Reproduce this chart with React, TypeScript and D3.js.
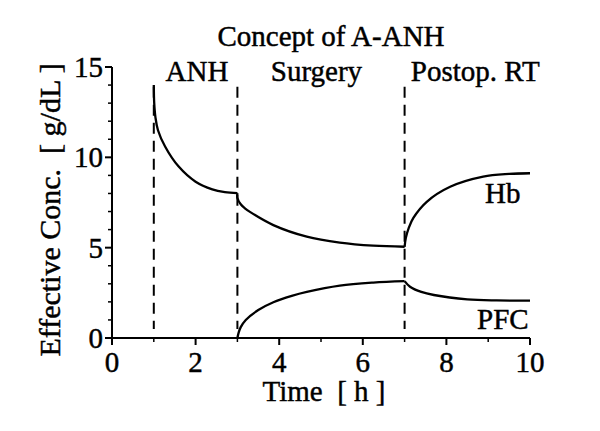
import React from 'react';
import * as d3 from 'd3';

// values: [time h, conc g/dL]
const hbAnh: [number, number][] = [
    [1.0, 14.0], [1.01, 13.0], [1.04, 12.2], [1.1, 11.5], [1.27, 10.6],
    [1.59, 9.5], [2.0, 8.65], [2.4, 8.23], [2.7, 8.08], [3.0, 8.02],
];
const hbSurgery: [number, number][] = [
    [3.0, 8.02], [3.0, 7.75], [3.08, 7.4], [3.18, 7.18], [3.3, 6.98], [3.86, 6.25],
    [4.66, 5.61], [5.45, 5.28], [6.25, 5.11], [7.0, 5.05],
];
const hbPostop: [number, number][] = [
    [7.0, 5.05], [7.03, 5.55], [7.1, 6.1], [7.21, 6.65], [7.53, 7.54], [8.09, 8.37],
    [8.88, 8.93], [9.5, 9.08], [10.0, 9.12],
];
const pfcSurgery: [number, number][] = [
    [3.0, 0.0], [3.03, 0.3], [3.08, 0.6], [3.2, 1.0], [3.5, 1.55], [3.86, 1.98],
    [4.3, 2.33], [4.66, 2.55], [5.45, 2.9], [6.25, 3.07], [7.0, 3.15],
];
const pfcPostop: [number, number][] = [
    [7.0, 3.15], [7.13, 2.84], [7.4, 2.55], [7.7, 2.38], [8.5, 2.14], [9.2, 2.08], [10.0, 2.07],
];

const phaseBounds = [1, 3, 7];
const phaseLabels = [
    { text: 'ANH', t: 1.28 },
    { text: 'Surgery', t: 3.8 },
    { text: 'Postop. RT', t: 7.15 },
];
const xMajor = [0, 2, 4, 6, 8, 10];
const xMinor = [1, 3, 5, 7, 9];
const yMajor = [0, 5, 10, 15];
const yMinor = d3.range(0, 16).filter((v) => v % 5 !== 0);

const font = '"Liberation Serif", "Times New Roman", serif';

export default function App() {
    const x = d3.scaleLinear().domain([0, 10]).range([112, 530]);
    const y = d3.scaleLinear().domain([0, 15]).range([338, 67]);

    const line = d3
        .line<[number, number]>()
        .x((d) => x(d[0]))
        .y((d) => y(d[1]))
        .curve(d3.curveCatmullRom.alpha(0.5));

    const curves = [hbAnh, hbSurgery, hbPostop, pfcSurgery, pfcPostop];

    // scanned type looks heavier, so give the text a thin outline
    const txt = { fontSize: 29, stroke: '#000', strokeWidth: 0.45 };

    return (
        <svg
            width={600}
            height={431}
            style={{ position: 'absolute', left: 0, top: 0, background: '#fff' }}
            fontFamily={font}
        >
            <text x={331} y={46} textAnchor="middle" {...txt}>
                Concept of A-ANH
            </text>
            {phaseLabels.map((p) => (
                <text key={p.text} x={x(p.t)} y={81} {...txt}>
                    {p.text}
                </text>
            ))}

            {phaseBounds.map((t) => (
                <line
                    key={t}
                    x1={x(t)}
                    x2={x(t)}
                    y1={y(13.9)}
                    y2={y(0.5)}
                    stroke="#000"
                    strokeWidth={2}
                    strokeDasharray="11,7"
                />
            ))}

            {curves.map((c, i) => (
                <path key={i} d={line(c) || ''} fill="none" stroke="#000" strokeWidth={2.3} />
            ))}

            {/* axes */}
            <line x1={x(0)} x2={x(10)} y1={y(0)} y2={y(0)} stroke="#000" strokeWidth={2} />
            <line x1={x(0)} x2={x(0)} y1={y(0)} y2={y(15)} stroke="#000" strokeWidth={2} />
            {xMajor.map((t) => (
                <g key={t}>
                    <line x1={x(t)} x2={x(t)} y1={y(0)} y2={y(0) + 7} stroke="#000" strokeWidth={2} />
                    <text x={x(t)} y={372} textAnchor="middle" {...txt}>
                        {t}
                    </text>
                </g>
            ))}
            {xMinor.map((t) => (
                <line key={t} x1={x(t)} x2={x(t)} y1={y(0)} y2={y(0) + 4} stroke="#000" strokeWidth={1.5} />
            ))}
            {yMajor.map((v) => (
                <g key={v}>
                    <line x1={x(0) - 7} x2={x(0)} y1={y(v)} y2={y(v)} stroke="#000" strokeWidth={2} />
                    <text x={103} y={y(v) + 10} textAnchor="end" {...txt}>
                        {v}
                    </text>
                </g>
            ))}
            {yMinor.map((v) => (
                <line key={v} x1={x(0) - 4} x2={x(0)} y1={y(v)} y2={y(v)} stroke="#000" strokeWidth={1.5} />
            ))}

            <text x={324} y={401} textAnchor="middle" xmlSpace="preserve" {...txt}>
                Time  [ h ]
            </text>
            <text
                transform="translate(60,210) rotate(-90)"
                textAnchor="middle"
                xmlSpace="preserve"
                {...txt}
                fontSize={30}
            >
                Effective Conc.  [ g/dL ]
            </text>

            <text x={485} y={203} {...txt}>
                Hb
            </text>
            <text x={477} y={329} {...txt}>
                PFC
            </text>
        </svg>
    );
}
